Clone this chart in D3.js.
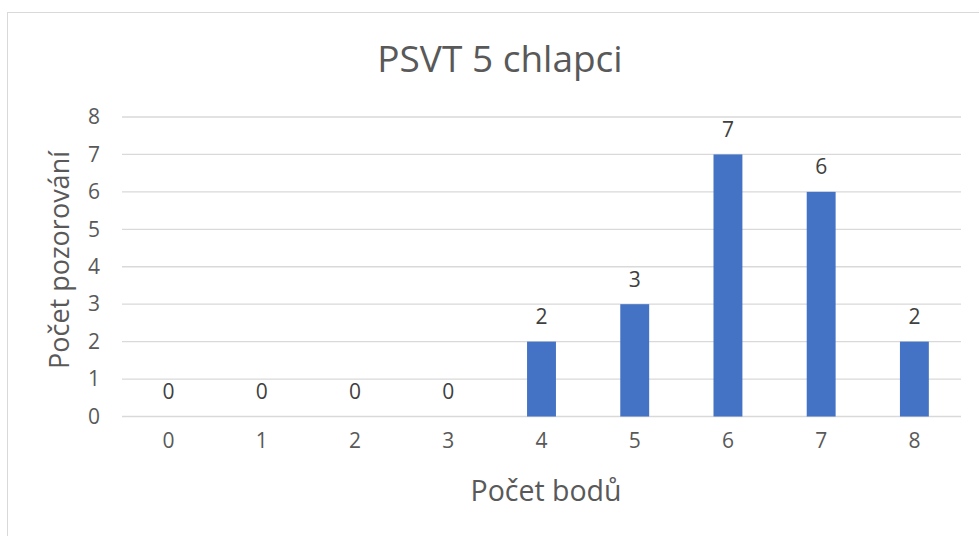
<!DOCTYPE html>
<html>
<head>
<meta charset="utf-8">
<script src="https://cdn.jsdelivr.net/npm/d3@7"></script>
<style>
  body { margin: 0; background: #fff; }
  text { font-family: "Open Sans", sans-serif; }
</style>
</head>
<body>
<div id="chart"></div>
<script>
(function(){

    const width = 979;
    const height = 536;

    // data
    const categories = ['0', '1', '2', '3', '4', '5', '6', '7', '8'];
    const counts = [0, 0, 0, 0, 2, 3, 7, 6, 2];
    const yTicks = [0, 1, 2, 3, 4, 5, 6, 7, 8];

    const titleText = 'PSVT 5 chlapci';
    const xTitle = 'Počet bodů';
    const yTitle = 'Počet pozorování';

    const svg = d3.select("#chart")
        .append("svg")
        .attr("width", width)
        .attr("height", height);

    // chart border (excel style)
    svg.append("rect")
        .attr("x", 7.5)
        .attr("y", 12.5)
        .attr("width", width)
        .attr("height", height)
        .attr("fill", "none")
        .attr("stroke", "#d9d9d9")
        .attr("stroke-width", 1);

    const x = d3.scaleBand()
        .domain(categories)
        .range([122, 961])
        .paddingInner(0.69)
        .paddingOuter(0.345);

    const y = d3.scaleLinear()
        .domain([0, 8])
        .range([416.5, 117]);

    // gridlines
    svg.append("g")
        .selectAll("line")
        .data(yTicks)
        .enter().append("line")
        .attr("x1", 122)
        .attr("x2", 961)
        .attr("y1", d => y(d))
        .attr("y2", d => y(d))
        .attr("stroke", "#d9d9d9")
        .attr("stroke-width", 1.3);

    // y tick labels
    const yAxis = d3.axisLeft(y).tickValues(yTicks).tickSize(0).tickPadding(0);
    svg.append("g")
        .attr("transform", "translate(100,0)")
        .call(yAxis)
        .call(g => g.select(".domain").remove())
        .selectAll("text")
        .attr("font-size", 21)
        .attr("fill", "#595959")
        .attr("font-family", "Open Sans, sans-serif");

    // x tick labels
    const xAxis = d3.axisBottom(x).tickSize(0).tickPadding(0);
    svg.append("g")
        .attr("transform", "translate(0,433)")
        .call(xAxis)
        .call(g => g.select(".domain").remove())
        .selectAll("text")
        .attr("font-size", 21)
        .attr("fill", "#595959")
        .attr("font-family", "Open Sans, sans-serif");

    // bars
    svg.append("g")
        .selectAll("rect")
        .data(counts)
        .enter().append("rect")
        .attr("x", (d, i) => x(categories[i]))
        .attr("y", d => y(d))
        .attr("width", x.bandwidth())
        .attr("height", d => y(0) - y(d))
        .attr("fill", "#4472c4");

    // value labels
    svg.append("g")
        .selectAll("text")
        .data(counts)
        .enter().append("text")
        .attr("x", (d, i) => x(categories[i]) + x.bandwidth() / 2)
        .attr("y", d => y(d) - 25)
        .attr("dy", "0.35em")
        .attr("text-anchor", "middle")
        .attr("font-size", 21)
        .attr("fill", "#404040")
        .text(d => d);

    // title
    svg.append("text")
        .attr("x", 500)
        .attr("y", 59)
        .attr("dy", "0.35em")
        .attr("text-anchor", "middle")
        .attr("font-size", 37)
        .attr("fill", "#595959")
        .text(titleText);

    // axis titles
    svg.append("text")
        .attr("x", 546)
        .attr("y", 491)
        .attr("dy", "0.35em")
        .attr("text-anchor", "middle")
        .attr("font-size", 28.5)
        .attr("fill", "#595959")
        .text(xTitle);

    svg.append("text")
        .attr("transform", "translate(60,260) rotate(-90)")
        .attr("dy", "0.35em")
        .attr("text-anchor", "middle")
        .attr("font-size", 27)
        .attr("fill", "#595959")
        .text(yTitle);

}());
</script>
</body>
</html>
